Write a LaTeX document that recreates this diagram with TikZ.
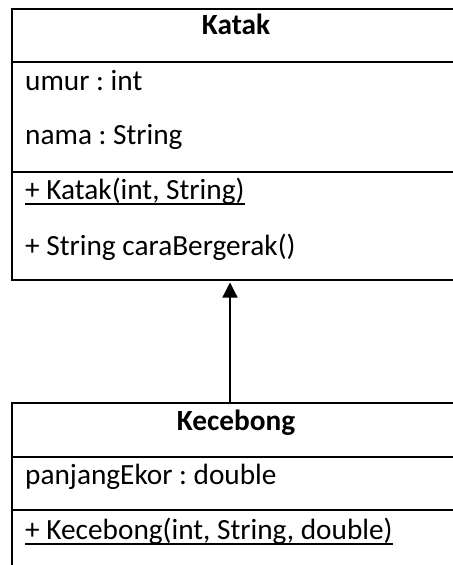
\documentclass[tikz,border=0pt]{standalone}
\usepackage{fontspec}
\setmainfont{Carlito}
\frenchspacing
\usetikzlibrary{arrows.meta}
\tikzset{
  classbox/.style={draw, line width=2bp, rectangle, inner sep=0, anchor=north west},
  divider/.style={line width=2bp},
  title/.style={inner sep=0, anchor=base, font=\fontsize{29.3bp}{35bp}\selectfont\bfseries},
  member/.style={inner sep=0, anchor=base west, font=\fontsize{29.3bp}{35bp}\selectfont},
  ulrule/.style={line width=1.5bp},
  inherit/.style={line width=1.3bp, -{Triangle[width=15bp,length=15bp]}, shorten >=1.5bp}
}
\begin{document}
\begin{tikzpicture}[x=1bp,y=-1bp]
\frenchspacing
\useasboundingbox (0,0) rectangle (453,565);
\begin{scope}
\clip (0,0) rectangle (453,565);
% Katak class
\node[classbox, minimum width=450bp, minimum height=271bp] (katak) at (11,8) {};
\draw[divider] (katak.west |- 0,62) -- (katak.east |- 0,62);
\draw[divider] (katak.west |- 0,172) -- (katak.east |- 0,172);
\node[title] (kt) at (236,35) {Katak};
\node[member] (k1) at (25,90.7) {umur : int};
\node[member] (k2) at (25,145) {nama : String};
\node[member] (k3) at (25,199) {+ Katak(int, String)};
\draw[ulrule] ([yshift=-5bp]k3.base west) -- ([yshift=-5bp]k3.base east);
\node[member] (k4) at (25,255) {+ String caraBergerak()};
% Kecebong class
\node[classbox, minimum width=450bp, minimum height=200bp] (kecebong) at (11,402) {};
\draw[divider] (kecebong.west |- 0,457) -- (kecebong.east |- 0,457);
\draw[divider] (kecebong.west |- 0,510) -- (kecebong.east |- 0,510);
\node[title] (ct) at (236,430) {Kecebong};
\node[member] (c1) at (25,484) {panjangEkor : double};
\node[member] (c2) at (25,539) {+ Kecebong(int, String, double)};
\draw[ulrule] ([yshift=-5bp]c2.base west) -- ([yshift=-5bp]c2.base east);
% inheritance
\coordinate (ax) at (230,0);
\draw[inherit] (kecebong.north -| ax) -- (katak.south -| ax);
\end{scope}
\end{tikzpicture}
\end{document}
